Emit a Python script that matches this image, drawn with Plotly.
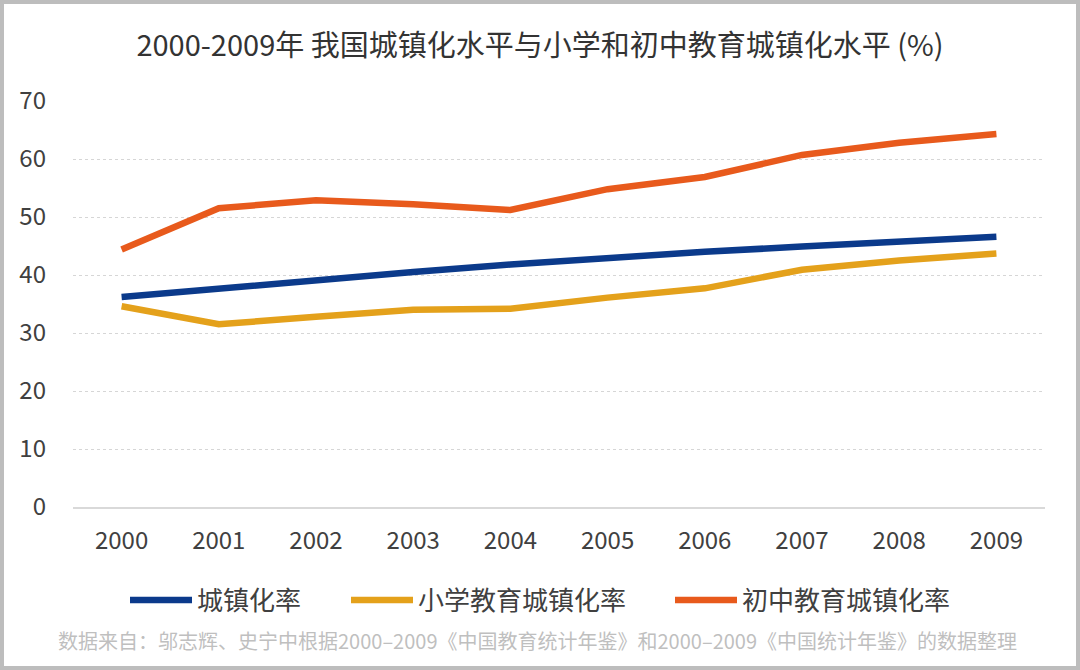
import plotly.graph_objects as go

years = ["2000", "2001", "2002", "2003", "2004", "2005", "2006", "2007", "2008", "2009"]
urbanization = [36.2, 37.7, 39.1, 40.5, 41.8, 43.0, 44.0, 44.9, 45.7, 46.6]
primary_urban = [34.6, 31.5, 32.8, 34.0, 34.2, 36.1, 37.7, 40.9, 42.5, 43.7]
junior_urban = [44.4, 51.5, 52.9, 52.2, 51.2, 54.8, 56.9, 60.7, 62.8, 64.3]

series_names = ["城镇化率", "小学教育城镇化率", "初中教育城镇化率"]
series_colors = ["#0B3A8B", "#E4A11B", "#E85A1C"]
y_ticks = [0, 10, 20, 30, 40, 50, 60, 70]

title_text = "2000-2009年 我国城镇化水平与小学和初中教育城镇化水平 (%)"
source_text = "数据来自：邬志辉、史宁中根据2000–2009《中国教育统计年鉴》和2000–2009《中国统计年鉴》的数据整理"

FONT = "Noto Sans CJK SC"

L, R, T, B = 73, 35, 101, 163
W, H = 1080, 670
pw, ph = W - L - R, H - T - B

def px_x(p):
    return (p - L) / pw

def px_y(p):
    return (H - B - p) / ph

legend_ids = ["legend", "legend2", "legend3"]
legend_left_px = [125, 346, 670]

fig = go.Figure()
for name, vals, color, lid in zip(series_names, [urbanization, primary_urban, junior_urban],
                                  series_colors, legend_ids):
    fig.add_trace(go.Scatter(
        x=years, y=vals, name=name, mode="lines",
        line=dict(color=color, width=6.5), legend=lid,
    ))

legend_common = dict(orientation="h", xanchor="left", y=px_y(600), yanchor="middle",
                     font=dict(size=26, color="#404040", family=FONT),
                     itemwidth=62, bgcolor="rgba(0,0,0,0)")

fig.update_layout(
    width=W, height=H,
    margin=dict(l=L, r=R, t=T, b=B),
    paper_bgcolor="white", plot_bgcolor="white",
    font=dict(family=FONT, color="#404040"),
    title=dict(text=title_text, x=0.5, xanchor="center", y=1 - 46 / H, yanchor="middle",
               font=dict(size=29, color="#333333", family=FONT)),
    showlegend=True,
    legend=dict(x=px_x(legend_left_px[0]), **legend_common),
    legend2=dict(x=px_x(legend_left_px[1]), **legend_common),
    legend3=dict(x=px_x(legend_left_px[2]), **legend_common),
    xaxis=dict(type="category", range=[-0.5, 9.5], showgrid=False, showline=True,
               linecolor="#D9D9D9", linewidth=1.5,
               ticks="", tickfont=dict(size=24, color="#404040"), ticklabelstandoff=11,
               zeroline=False, fixedrange=True),
    yaxis=dict(range=[0, 70], tickvals=y_ticks, showgrid=True, gridcolor="#D6D6D6", gridwidth=1,
               griddash="dot", zeroline=False, showline=False, ticks="",
               tickfont=dict(size=24, color="#404040"), ticklabelstandoff=26, fixedrange=True),
    annotations=[dict(text=source_text, xref="paper", yref="paper", x=px_x(537), y=px_y(640),
                      xanchor="center", yanchor="middle", showarrow=False,
                      font=dict(size=20, color="#BFBFBF", family=FONT))],
    shapes=[dict(type="rect", xref="paper", yref="paper", x0=px_x(2), x1=px_x(1078),
                 y0=px_y(668), y1=px_y(2), line=dict(color="#BDBDBD", width=4), layer="below")],
)

fig.write_html("out.html", config={"displayModeBar": False},
               post_script="document.body.style.margin='0';")
